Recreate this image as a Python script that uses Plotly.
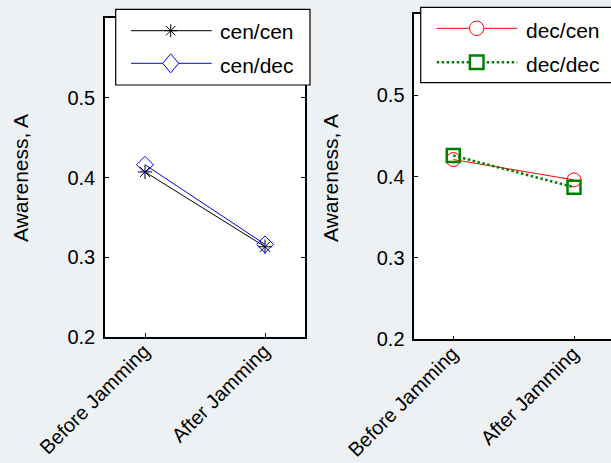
import plotly.graph_objects as go

# Awareness before / after jamming for the four configurations
categories = ["Before Jamming", "After Jamming"]
cen_cen = [0.407, 0.313]
cen_dec = [0.416, 0.316]
dec_cen = [0.421, 0.396]
dec_dec = [0.426, 0.387]
y_ticks = [0.2, 0.3, 0.4, 0.5]

W, H = 611, 463
FONT = "Liberation Sans, Arial, sans-serif"


def fx(px):
    return px / W


def fy(py):
    return 1 - py / H


fig = go.Figure()

fig.add_trace(go.Scatter(
    x=categories, y=cen_cen, mode="lines+markers", name="cen/cen",
    line=dict(color="black", width=1),
    marker=dict(symbol="asterisk-open", size=12, color="black",
                line=dict(color="black", width=1)),
    xaxis="x", yaxis="y"))
fig.add_trace(go.Scatter(
    x=categories, y=cen_dec, mode="lines+markers", name="cen/dec",
    line=dict(color="#0000ff", width=1),
    marker=dict(symbol="diamond-open", size=13, color="#0000ff",
                line=dict(color="#0000ff", width=1)),
    xaxis="x", yaxis="y"))
fig.add_trace(go.Scatter(
    x=categories, y=dec_cen, mode="lines+markers", name="dec/cen",
    line=dict(color="#ff0000", width=1),
    marker=dict(symbol="circle-open", size=14, color="#ff0000",
                line=dict(color="#ff0000", width=1)),
    xaxis="x2", yaxis="y2"))
fig.add_trace(go.Scatter(
    x=categories, y=dec_dec, mode="lines+markers", name="dec/dec",
    line=dict(color="#008000", width=2.5, dash="2.5px,2.5px"),
    marker=dict(symbol="square-open", size=13, color="#008000",
                line=dict(color="#008000", width=2.5)),
    xaxis="x2", yaxis="y2"))

axis_common = dict(
    showline=True, linecolor="black", linewidth=1.5,
    ticks="inside", ticklen=4, tickcolor="black", tickwidth=1,
    showgrid=False, zeroline=False, automargin=False,
    tickfont=dict(family=FONT, size=20, color="black"),
)
xtick_style = dict(
    type="category", tickangle=-45,
    ticklabelshift=-1, ticklabelstandoff=-7,
    tickfont=dict(family=FONT, size=20, color="black"),
)

# panel frames in pixels
L = dict(x0=105, x1=305, y0=18.3, y1=336.7, c0=145, c1=265)
R = dict(x0=414.3, x1=611, y0=14, y1=339.3, c0=453.3, c1=574)


def xrange_of(p):
    unit = p["c1"] - p["c0"]
    return [-(p["c0"] - p["x0"]) / unit, 1 + (p["x1"] - p["c1"]) / unit]


fig.update_layout(
    width=W, height=H,
    margin=dict(l=0, r=0, t=0, b=0, autoexpand=False),
    paper_bgcolor="#eef1f4",
    plot_bgcolor="white",
    showlegend=False,
    font=dict(family=FONT, size=20, color="black"),
    xaxis=dict(axis_common, **xtick_style,
               domain=[fx(L["x0"]), fx(L["x1"])], anchor="y",
               range=xrange_of(L), mirror="ticks"),
    yaxis=dict(axis_common, domain=[fy(L["y1"]), fy(L["y0"])], anchor="x",
               range=[0.2, 0.6], tickvals=y_ticks, tickformat=".1f",
               mirror="ticks", ticklabelstandoff=4),
    xaxis2=dict(axis_common, **xtick_style,
                domain=[fx(R["x0"]), 1.0], anchor="y2",
                range=xrange_of(R), mirror=True),
    yaxis2=dict(axis_common, domain=[fy(R["y1"]), fy(R["y0"])], anchor="x2",
                range=[0.2, 0.6], tickvals=y_ticks, tickformat=".1f",
                mirror=False, ticklabelstandoff=4),
)

# y-axis titles
for xc in (20, 330):
    fig.add_annotation(
        x=fx(xc), y=fy(178), xref="paper", yref="paper",
        text="Awareness, A", textangle=-90, showarrow=False,
        font=dict(family=FONT, size=21, color="black"),
        xanchor="center", yanchor="middle")

shapes = []


def legend_box(x0, y0, x1, y1):
    shapes.append(dict(type="rect", xref="paper", yref="paper",
                       x0=fx(x0), x1=fx(x1), y0=fy(y1), y1=fy(y0),
                       fillcolor="white", line=dict(color="black", width=1.2),
                       layer="above"))


def legend_line(x0, x1, y, color, width=1, dash="solid"):
    shapes.append(dict(type="line", xref="paper", yref="paper",
                       x0=fx(x0), x1=fx(x1), y0=fy(y), y1=fy(y),
                       line=dict(color=color, width=width, dash=dash),
                       layer="above"))


def legend_text(x, y, text):
    fig.add_annotation(x=fx(x), y=fy(y), xref="paper", yref="paper",
                       text=text, showarrow=False, xanchor="left",
                       yanchor="middle",
                       font=dict(family=FONT, size=21, color="black"))


def path_of(points_list):
    parts = []
    for pts in points_list:
        seg = "M" + "L".join(f"{fx(a):.5f},{fy(b):.5f}" for a, b in pts)
        parts.append(seg)
    return " ".join(parts)


# left legend
legend_box(115.7, 9.3, 310, 85)
legend_line(131, 211.7, 30.7, "black")
sx, sy, r = 170.7, 30.7, 6.5
d = r * 0.72
shapes.append(dict(type="path", xref="paper", yref="paper", layer="above",
                   path=path_of([[(sx - r, sy), (sx + r, sy)],
                                 [(sx, sy - r), (sx, sy + r)],
                                 [(sx - d, sy - d), (sx + d, sy + d)],
                                 [(sx - d, sy + d), (sx + d, sy - d)]]),
                   line=dict(color="black", width=1)))
legend_text(218, 32, "cen/cen")

legend_line(131, 211.7, 63.3, "#0000ff")
dx, dy, hw, hh = 170.7, 63.3, 8, 9.5
shapes.append(dict(type="path", xref="paper", yref="paper", layer="above",
                   path=path_of([[(dx, dy - hh), (dx + hw, dy), (dx, dy + hh),
                                  (dx - hw, dy), (dx, dy - hh)]]),
                   fillcolor="white", line=dict(color="#0000ff", width=1)))
legend_text(218, 65, "cen/dec")

# right legend
legend_box(420.7, 7.3, 613, 82.7)
legend_line(436.7, 517.3, 28.3, "#ff0000")
cx, cy, cr = 476.7, 28.3, 7.2
shapes.append(dict(type="circle", xref="paper", yref="paper", layer="above",
                   x0=fx(cx - cr), x1=fx(cx + cr), y0=fy(cy + cr), y1=fy(cy - cr),
                   fillcolor="white", line=dict(color="#ff0000", width=1)))
legend_text(524, 30, "dec/cen")

legend_line(436.7, 517.3, 62.3, "#008000", width=2.5, dash="2.5px,2.5px")
qx, qy, qh = 476.7, 62.3, 6.8
shapes.append(dict(type="rect", xref="paper", yref="paper", layer="above",
                   x0=fx(qx - qh), x1=fx(qx + qh), y0=fy(qy + qh), y1=fy(qy - qh),
                   fillcolor="white", line=dict(color="#008000", width=2.5)))
legend_text(524, 64, "dec/dec")

fig.update_layout(shapes=shapes)

fig.write_html("out.html")
